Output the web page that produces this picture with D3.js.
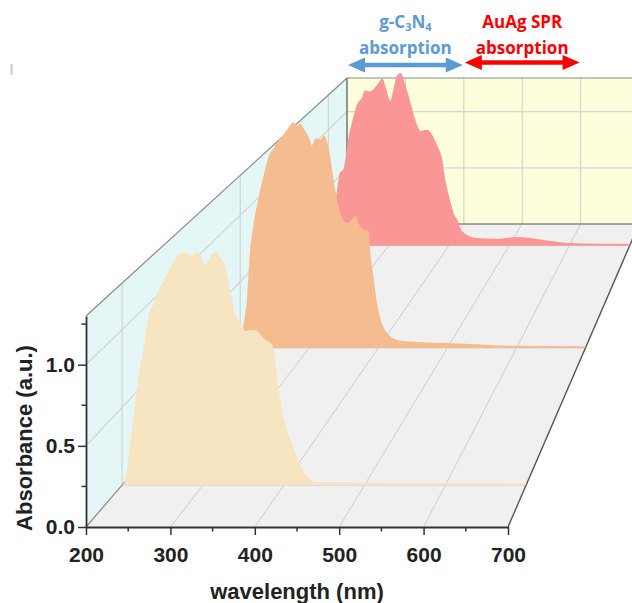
<!DOCTYPE html>
<html>
<head>
<meta charset="UTF-8">
<style>
  body { margin: 0; background: #fff; }
  svg { display: block; }
  .tick text { font-family: "Liberation Sans", Arial, sans-serif; font-weight: bold; font-size: 21px; fill: #222; }
</style>
</head>
<body>
<svg></svg>
<script src="https://d3js.org/d3.v7.min.js"></script>
<script>
const width = 632, height = 603;

// ---- data ----
const wlTicks = [200, 300, 400, 500, 600, 700];
const wlMinor = [250, 350, 450, 550, 650];
const absTicks = [0, 0.5, 1.0];
const absMinor = [0.25, 0.75, 1.25];
const seriesDepth = [0.1, 0.5, 0.9];                    // front -> back
const seriesColor = ["#f7e4c1", "#f5bd8f", "#fb9696"];

const creamSpec = [[200,0],[203,0.02],[211,0.30],[219,0.64],[227,0.90],[233,1.09],[240,1.18],[244,1.24],
  [252,1.32],[258,1.38],[264,1.44],[268,1.47],[275,1.50],[281,1.49],[285,1.47],[291,1.50],[296,1.49],
  [303,1.41],[310,1.48],[316,1.50],[322,1.46],[328,1.40],[334,1.24],[341,1.09],[347,1.04],[353,0.99],
  [359,1.00],[367,0.99],[376,0.94],[386,0.90],[390,0.77],[394,0.60],[400,0.43],[409,0.28],[417,0.17],
  [425,0.08],[433,0.035],[443,0.018],[500,0.015],[600,0.013],[700,0.012]];

const orangeSpec = [[200,0],[204,0.15],[210,0.39],[214,0.72],[219,0.92],[226,1.12],[234,1.30],[241,1.44],
  [248,1.50],[255,1.56],[263,1.61],[270,1.66],[277,1.70],[282,1.67],[287,1.69],[292,1.65],[299,1.59],
  [304,1.52],[309,1.58],[316,1.57],[321,1.60],[326,1.55],[330,1.45],[335,1.27],[340,1.12],[347,0.99],
  [355,0.94],[362,0.97],[367,1.00],[371,0.94],[379,0.89],[386,0.88],[388,0.74],[393,0.54],[398,0.34],
  [405,0.19],[415,0.10],[427,0.062],[442,0.049],[500,0.037],[548,0.026],[596,0.016],[700,0.012]];

const pinkSpec = [[200,0],[205,0.15],[210,0.32],[214,0.46],[219,0.63],[225,0.66],[228,0.74],[233,0.92],
  [239,1.06],[247,1.21],[256,1.28],[261,1.34],[267,1.33],[275,1.35],[281,1.39],[290,1.44],[296,1.35],
  [303,1.25],[308,1.35],[314,1.47],[320,1.49],[328,1.38],[336,1.24],[344,1.09],[353,0.99],[364,1.00],
  [372,0.96],[380,0.87],[389,0.74],[394,0.57],[400,0.43],[408,0.28],[416,0.20],[419,0.15],[430,0.094],
  [447,0.066],[480,0.059],[513,0.074],[535,0.066],[563,0.045],[602,0.022],[647,0.016],[700,0.015]];

const allSpecs = [creamSpec, orangeSpec, pinkSpec];

// bands marked above the back wall
const bandNames = ["g-C3N4", "AuAg SPR"];
const bandFrom = [200, 400];
const bandTo = [400, 600];
const bandColor = ["#5b9bd5", "#ff0000"];

// ---- projection ----
let svg = d3.select("svg").attr("width", width).attr("height", height);

const x = d3.scaleLinear().domain([200, 700]).range([86, 508]);
const y = d3.scaleLinear().domain([0, 1.3]).range([527, 316]);

// back plane is the front plane shrunk towards a vanishing point
const backRatio = 0.692, backOrigin = [347, 224];
const vx = (backOrigin[0] - backRatio * x(200)) / (1 - backRatio);
const vy = (backOrigin[1] - backRatio * y(0)) / (1 - backRatio);
const persp = 1 / backRatio - 1;
const shrink = z => 1 / (1 + persp * z);
const px = (wl, z) => vx + (x(wl) - vx) * shrink(z);
const py = (a, z) => vy + (y(a) - vy) * shrink(z);
const pt = (wl, a, z) => [px(wl, z), py(a, z)];

const poly = pts => "M" + pts.map(p => p.join(",")).join("L") + "Z";
const seg = (g, a, b, color, w) => g.append("line")
  .attr("x1", a[0]).attr("y1", a[1]).attr("x2", b[0]).attr("y2", b[1])
  .attr("stroke", color).attr("stroke-width", w);

// ---- walls ----
const walls = svg.append("g");
walls.append("path").attr("d", poly([pt(200,0,1), pt(700,0,1), pt(700,1.3,1), pt(200,1.3,1)])).attr("fill", "#fefedd");
walls.append("path").attr("d", poly([pt(200,0,0), pt(200,1.3,0), pt(200,1.3,1), pt(200,0,1)])).attr("fill", "#e4f6f5");
walls.append("path").attr("d", poly([pt(200,0,0), pt(700,0,0), pt(700,0,1), pt(200,0,1)])).attr("fill", "#f0f0f0");

const grid = svg.append("g");
const gridColor = "#d4d4d4";
// back wall
[300, 400, 500, 600, 700].forEach(w => seg(grid, pt(w,0,1), pt(w,1.3,1), gridColor, 1.2));
[0.5, 1.0].forEach(a => seg(grid, pt(200,a,1), pt(700,a,1), gridColor, 1.2));
// left wall
seriesDepth.forEach(z => seg(grid, pt(200,0,z), pt(200,1.3,z), gridColor, 1.2));
[0.5, 1.0].forEach(a => seg(grid, pt(200,a,0), pt(200,a,1), gridColor, 1.2));
// floor
[300, 400, 500, 600].forEach(w => seg(grid, pt(w,0,0), pt(w,0,1), "#cdcdcd", 1));
seriesDepth.forEach(z => seg(grid, pt(200,0,z), pt(700,0,z), "#cdcdcd", 1));

// frame edges
seg(grid, pt(200,1.3,0), pt(200,1.3,1), "#8a8a8a", 1.2);
seg(grid, pt(200,1.3,1), pt(700,1.3,1), "#8a8a8a", 1.2);
seg(grid, pt(200,0,1), pt(200,1.3,1), "#6a6a6a", 1.4);
seg(grid, pt(200,0,1), pt(700,0,1), "#8a8a8a", 1.4);
seg(grid, pt(200,0,0), pt(200,0,1), "#8a8a8a", 1.2);
seg(grid, pt(700,0,0), pt(700,0,1), "#555", 1.4);

// ---- series, back to front ----
const series = svg.append("g");
[2, 1, 0].forEach(i => {
  const z = seriesDepth[i];
  const area = d3.area()
    .x(d => px(d[0], z))
    .y0(py(0, z))
    .y1(d => py(d[1], z))
    .curve(d3.curveMonotoneX);
  series.append("path")
    .datum(allSpecs[i])
    .attr("d", area)
    .attr("fill", seriesColor[i]);
});

// ---- axes (front plane) ----
const xAxis = svg.append("g").attr("transform", "translate(0," + y(0) + ")")
  .call(d3.axisBottom(x).tickValues(wlTicks).tickFormat(d3.format("d")).tickSize(8).tickPadding(12).tickSizeOuter(0));
xAxis.selectAll(".minor").data(wlMinor).enter().append("line").attr("class", "minor")
  .attr("x1", d => x(d)).attr("x2", d => x(d)).attr("y1", 0).attr("y2", 4.5)
  .attr("stroke", "#333").attr("stroke-width", 1.5);

const yAxis = svg.append("g").attr("transform", "translate(" + x(200) + ",0)")
  .call(d3.axisLeft(y).tickValues(absTicks).tickFormat(d3.format(".1f")).tickSize(8).tickPadding(3).tickSizeOuter(0));
yAxis.selectAll(".minor").data(absMinor).enter().append("line").attr("class", "minor")
  .attr("y1", d => y(d)).attr("y2", d => y(d)).attr("x1", 0).attr("x2", -4.5)
  .attr("stroke", "#333").attr("stroke-width", 1.5);

[xAxis, yAxis].forEach(a => {
  a.select(".domain").attr("stroke", "#333").attr("stroke-width", 1.8);
  a.selectAll(".tick line").attr("stroke", "#333").attr("stroke-width", 1.5);
});

svg.append("text")
  .attr("x", 297).attr("y", 599)
  .attr("text-anchor", "middle")
  .style("font-family", "'Liberation Sans', Arial, sans-serif")
  .style("font-weight", "bold").style("font-size", "22px").style("fill", "#222")
  .text("wavelength (nm)");

svg.append("text")
  .attr("transform", "translate(32,438) rotate(-90)")
  .attr("text-anchor", "middle")
  .style("font-family", "'Liberation Sans', Arial, sans-serif")
  .style("font-weight", "bold").style("font-size", "22px").style("fill", "#222")
  .text("Absorbance (a.u.)");

// ---- band annotations ----
const note = svg.append("g")
  .style("font-family", "'Open Sans', sans-serif").style("font-weight", "bold").style("font-size", "17px");

bandNames.forEach((name, i) => {
  const x0 = px(bandFrom[i], 1), x1 = px(bandTo[i], 1);
  const cx = (x0 + x1) / 2;
  const ay = i === 0 ? 65 : 62.5;
  const col = bandColor[i];

  const t = note.append("text").attr("x", cx).attr("y", 28).attr("text-anchor", "middle").attr("fill", col);
  if (name === "g-C3N4") {
    t.append("tspan").text("g-C");
    t.append("tspan").text("3").style("font-size", "11px").attr("dy", 3);
    t.append("tspan").text("N").attr("dy", -3);
    t.append("tspan").text("4").style("font-size", "11px").attr("dy", 3);
  } else {
    t.text(name);
  }
  note.append("text").attr("x", cx).attr("y", 54).attr("text-anchor", "middle").attr("fill", col).text("absorption");

  // double-headed arrow
  const hl = 17, hh = 7.5, sh = 2.2;
  const a = x0 + 1, b = x1 - 1;
  note.append("path")
    .attr("d", poly([[a, ay], [a + hl, ay - hh], [a + hl, ay - sh], [b - hl, ay - sh], [b - hl, ay - hh],
      [b, ay], [b - hl, ay + hh], [b - hl, ay + sh], [a + hl, ay + sh], [a + hl, ay + hh]]))
    .attr("fill", col);
});

// small stray mark at the top-left of the original figure
svg.append("line").attr("x1", 11.5).attr("x2", 11.5).attr("y1", 64).attr("y2", 75)
  .attr("stroke", "#c8c8c8").attr("stroke-width", 2);
</script>
</body>
</html>
